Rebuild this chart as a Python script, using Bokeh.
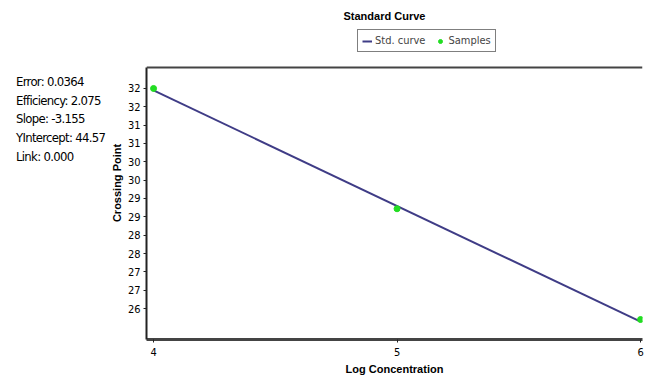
from bokeh.plotting import figure
from bokeh.models import Range1d, FixedTicker, Legend, LegendItem, Div, Span
from bokeh.layouts import row
from bokeh.embed import file_html
from bokeh.resources import INLINE

# ---- data ----
sample_x = [4, 5, 6]
sample_y = [32.00, 28.72, 25.70]
slope = -3.155
intercept = 44.57
curve_x = [4, 6]
stats_lines = ["Error: 0.0364", "Efficiency: 2.075", "Slope: -3.155",
               "YIntercept: 44.57", "Link: 0.000"]
x_ticks = [4, 5, 6]
y_ticks = [26.0, 26.5, 27.0, 27.5, 28.0, 28.5, 29.0, 29.5, 30.0, 30.5,
           31.0, 31.5, 32.0]
y_tick_labels = ["26", "27", "27", "28", "28", "29", "29", "30", "30", "31",
                 "31", "32", "32"]
y_box = (25.155, 32.57)      # extent of the plot box on the y axis

curve_y = [intercept + slope * x for x in curve_x]

NARROW = "DejaVu Sans Condensed, Liberation Sans Narrow, Liberation Sans, sans-serif"
BOLD = "Liberation Sans, Arial, sans-serif"

p = figure(width=538, height=377, output_backend="svg", toolbar_location=None,
           x_range=Range1d(3.971, 6.008), y_range=Range1d(y_box[0], 33.69),
           min_border_left=40, min_border_right=2, min_border_top=26,
           min_border_bottom=31)
p.background_fill_color = "white"
p.border_fill_color = "white"
p.outline_line_color = None
p.xgrid.visible = False
p.ygrid.visible = False

p.title.text = "Standard Curve"
p.title.align = "left"
p.title.offset = 197
p.title.text_font = BOLD
p.title.text_font_size = "11px"
p.title.text_font_style = "bold"
p.title.text_color = "black"

line_r = p.line(curve_x, curve_y, line_color="#3f3c86", line_width=2)
pts_r = p.scatter(sample_x, sample_y, size=6, fill_color="#22dd22",
                  line_color="#22dd22")

# top edge of the plot box
p.add_layout(Span(location=y_box[1], dimension="width",
                  line_color="#444444", line_width=2))

# axes
p.xaxis.ticker = FixedTicker(ticks=x_ticks)
p.xaxis.axis_label = "Log Concentration"
p.yaxis.ticker = FixedTicker(ticks=y_ticks)
p.yaxis.major_label_overrides = {v: l for v, l in zip(y_ticks, y_tick_labels)}
p.yaxis.axis_label = "Crossing Point"
p.yaxis.bounds = y_box
for ax in (p.xaxis[0], p.yaxis[0]):
    ax.axis_label_text_font = BOLD
    ax.axis_label_text_font_style = "bold"
    ax.axis_label_text_font_size = "11px"
    ax.axis_label_text_color = "black"
    ax.major_label_text_font = NARROW
    ax.major_label_text_font_size = "11px"
    ax.major_label_text_color = "black"
    ax.axis_line_color = "#222222"
    ax.axis_line_width = 2
    ax.major_tick_line_color = "#222222"
    ax.major_tick_out = 3
    ax.major_tick_in = 0
    ax.minor_tick_line_color = None
p.xaxis[0].axis_line_color = "#444444"
p.xaxis[0].axis_line_width = 3
p.yaxis[0].axis_label_standoff = 2
p.yaxis[0].major_label_standoff = 3
p.xaxis[0].axis_label_standoff = 4
p.xaxis[0].major_label_standoff = 5

legend = Legend(items=[LegendItem(label="Std. curve", renderers=[line_r]),
                       LegendItem(label="Samples", renderers=[pts_r])],
                orientation="horizontal", location=(211, 287),
                border_line_color="black", border_line_width=1,
                background_fill_alpha=1, padding=4, spacing=10,
                glyph_width=10, glyph_height=12, label_standoff=3,
                label_text_font=NARROW, label_text_font_size="11px",
                margin=0, label_height=12)
p.add_layout(legend, "center")

stats_html = ('<div style="font-family: ' + NARROW + '; font-size: 13px; '
              'letter-spacing: -0.7px; line-height: 18.7px; color: black; '
              'padding-left: 16px; padding-top: 73px; white-space: nowrap;">'
              + "<br>".join(stats_lines) + "</div>")
stats = Div(text=stats_html, width=106, height=377, margin=(0, 0, 0, 0))

layout = row(stats, p, spacing=0)
open("out.html", "w").write(file_html(layout, INLINE))
